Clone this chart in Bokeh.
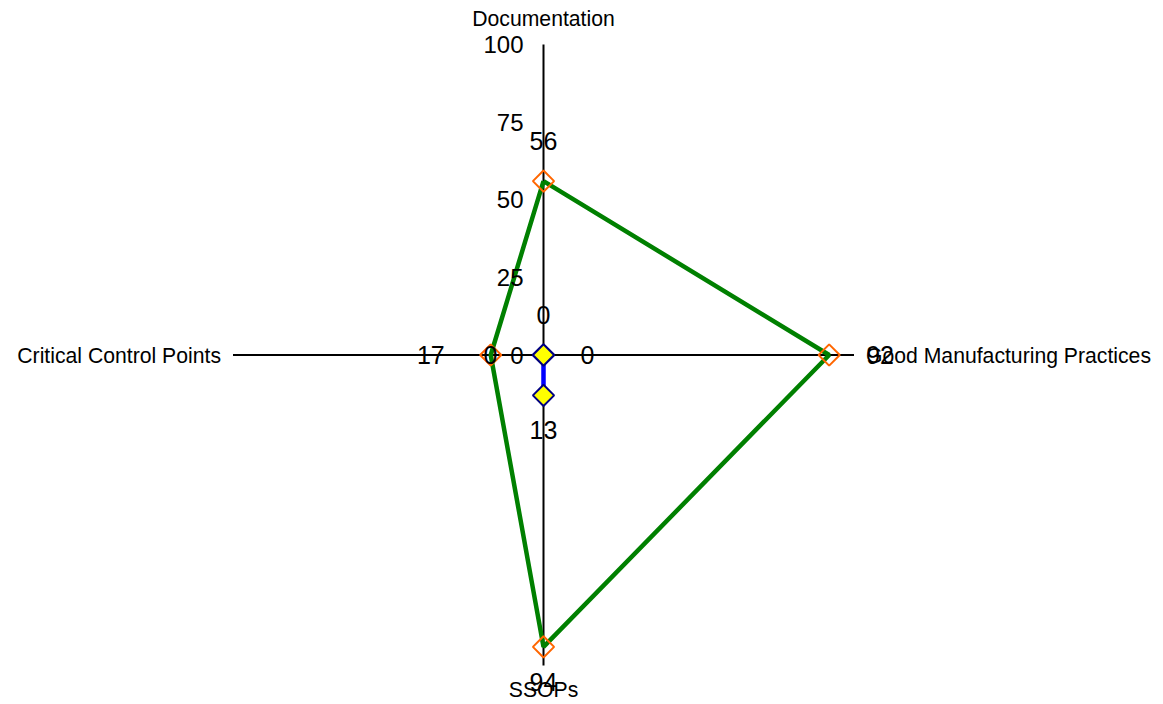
import numpy as np
from bokeh.plotting import figure
from bokeh.models import Range1d
from bokeh.core.properties import value
from bokeh.embed import file_html
from bokeh.resources import INLINE

# ---- data ----
categories = ["Documentation", "Good Manufacturing Practices", "SSOPs", "Critical Control Points"]
series_1 = [56, 92, 94, 17]
series_2 = [0, 0, 13, 0]
tick_values = [0, 25, 50, 75, 100]
tick_labels = ["0", "25", "50", "75", "100"]
axis_max = 100

# ---- layout ----
W, H = 1155, 700
cx, cy = 543.0, 354.5        # centre of the radar in frame pixels
S = 3.105                    # pixels per unit
FONT = "Liberation Sans"

p = figure(width=W, height=H, output_backend="svg", toolbar_location=None,
           x_axis_type=None, y_axis_type=None, min_border=0,
           x_range=Range1d(-cx / S, (W - cx) / S),
           y_range=Range1d(-(H - cy) / S, cy / S))
p.grid.visible = False
p.outline_line_color = None
p.background_fill_color = "white"
p.border_fill_color = "white"

# direction of each category: up, right, down, left
dirs = [(0, 1), (1, 0), (0, -1), (-1, 0)]

def xy(vals):
    xs = [d[0] * v for d, v in zip(dirs, vals)]
    ys = [d[1] * v for d, v in zip(dirs, vals)]
    return xs, ys

# axes
for dx, dy in dirs:
    p.segment(x0=0, y0=0, x1=dx * axis_max, y1=dy * axis_max, line_color="black", line_width=2)

# series 1
x1, y1 = xy(series_1)
p.line(x1 + x1[:1], y1 + y1[:1], line_color="#008000", line_width=4.5)
p.scatter(x1, y1, marker="square", angle=np.pi / 4, size=15,
          fill_color=None, line_color="#FF6600", line_width=2)

# series 2
x2, y2 = xy(series_2)
p.line(x2 + x2[:1], y2 + y2[:1], line_color="#0000FF", line_width=4.5)
p.scatter(x2, y2, marker="square", angle=np.pi / 4, size=15,
          fill_color="#FFFF00", line_color="#000080", line_width=2)

# tick labels on the top axis
p.text(x=[0] * len(tick_values), y=tick_values, text=tick_labels,
       x_offset=-20, text_align="right", text_baseline="middle",
       text_font=value(FONT), text_font_size="24px", text_color="black")

# category labels
cat_style = [
    dict(x_offset=0, y_offset=-26, text_align="center", text_baseline="alphabetic"),
    dict(x_offset=12, y_offset=0, text_align="left", text_baseline="middle"),
    dict(x_offset=0, y_offset=24, text_align="center", text_baseline="alphabetic"),
    dict(x_offset=-12, y_offset=0, text_align="right", text_baseline="middle"),
]
for (dx, dy), name, st in zip(dirs, categories, cat_style):
    p.text(x=[dx * axis_max], y=[dy * axis_max], text=[name],
           text_font=value(FONT), text_font_size="21.2px", text_color="black", **st)

# data labels
lab_style = [
    dict(x_offset=0, y_offset=-40, text_align="center", text_baseline="alphabetic"),
    dict(x_offset=37, y_offset=0, text_align="left", text_baseline="middle"),
    dict(x_offset=0, y_offset=35, text_align="center", text_baseline="alphabetic"),
    dict(x_offset=-46, y_offset=0, text_align="right", text_baseline="middle"),
]
for vals in (series_1, series_2):
    xs, ys = xy(vals)
    for i, st in enumerate(lab_style):
        p.text(x=[xs[i]], y=[ys[i]], text=[str(vals[i])],
               text_font=value(FONT), text_font_size="25px", text_color="black", **st)

open("out.html", "w").write(file_html(p, INLINE))
